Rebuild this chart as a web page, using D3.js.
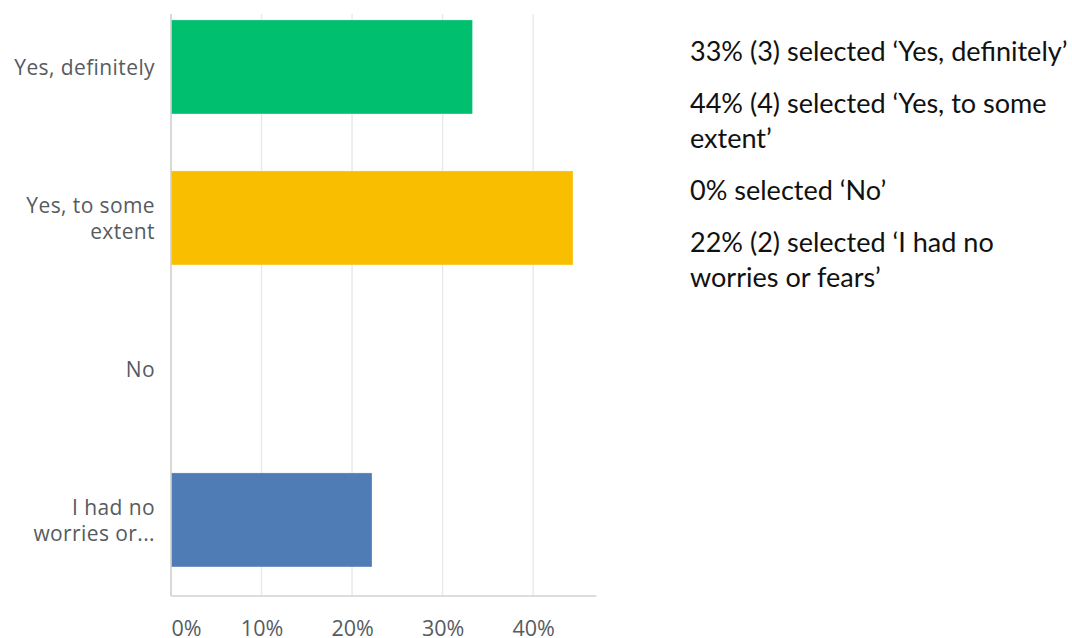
<!DOCTYPE html>
<html>
<head>
<meta charset="utf-8">
<script src="https://cdn.jsdelivr.net/npm/d3@7"></script>
<style>
  html, body { margin: 0; padding: 0; background: #fff; }
  svg { display: block; }
</style>
</head>
<body>
<svg id="chart" width="1072" height="638"></svg>
<script>
// Survey answers, in the order they are listed
const categories = ["Yes, definitely", "Yes, to some extent", "No", "I had no worries or fears"];
// Wrapped axis labels as they appear next to the bars
const categoryLabels = [["Yes, definitely"], ["Yes, to some", "extent"], ["No"], ["I had no", "worries or..."]];
// Share of respondents (%)
const percents = [33.3, 44.4, 0, 22.2];
const barColors = ["#00bf6f", "#f9be00", "#6bc8cd", "#507cb6"];
// Percentage tick values along the bottom
const tickValues = [0, 10, 20, 30, 40];
// Summary notes shown to the right, one paragraph per answer
const summaryLines = [
  ["33% (3) selected \u2018Yes, definitely\u2019"],
  ["44% (4) selected \u2018Yes, to some", "extent\u2019"],
  ["0% selected \u2018No\u2019"],
  ["22% (2) selected \u2018I had no", "worries or fears\u2019"]
];

const svg = d3.select("#chart");

const plotLeft = 171, plotRight = 596.5, plotTop = 14, plotBottom = 596;

const x = d3.scaleLinear().domain([0, 47]).range([plotLeft, plotRight]);
const y = d3.scaleBand()
  .domain(categories)
  .range([plotTop, plotBottom])
  .paddingInner(0.3775)
  .paddingOuter(0.116)
  .align(0.17);

// vertical gridlines
svg.append("g").selectAll("line")
  .data(tickValues.filter(d => d > 0))
  .join("line")
  .attr("x1", d => x(d)).attr("x2", d => x(d))
  .attr("y1", plotTop).attr("y2", plotBottom)
  .attr("stroke", "#e8e8e8").attr("stroke-width", 1.4);

// bars
svg.append("g").selectAll("rect")
  .data(categories)
  .join("rect")
  .attr("x", x(0))
  .attr("y", d => y(d))
  .attr("width", (d, i) => x(percents[i]) - x(0))
  .attr("height", y.bandwidth())
  .attr("fill", (d, i) => barColors[i])
  .attr("stroke", "rgba(255,255,255,0.25)")
  .attr("stroke-width", 1);

// axis lines
svg.append("line")
  .attr("x1", plotLeft).attr("x2", plotLeft)
  .attr("y1", plotTop).attr("y2", plotBottom)
  .attr("stroke", "#cfcfcf").attr("stroke-width", 1.6);
svg.append("line")
  .attr("x1", plotLeft).attr("x2", plotRight)
  .attr("y1", plotBottom).attr("y2", plotBottom)
  .attr("stroke", "#d2d2d2").attr("stroke-width", 1.6);

// bottom tick labels
const xAxis = d3.axisBottom(x)
  .tickValues(tickValues)
  .tickFormat(d => d + "%")
  .tickSize(0)
  .tickPadding(0);
const gx = svg.append("g")
  .attr("transform", `translate(0, ${plotBottom})`)
  .call(xAxis);
gx.select(".domain").remove();
gx.selectAll("text")
  .attr("y", 39.5)
  .attr("dy", 0)
  .attr("fill", "#565b5f")
  .style("font-family", "'Open Sans', sans-serif")
  .style("font-size", "21.5px")
  .attr("text-anchor", d => d === 0 ? "start" : "middle");

// category labels
const lineGap = 26;
svg.append("g").selectAll("text")
  .data(categories)
  .join("text")
  .attr("text-anchor", "end")
  .attr("fill", "#565b5f")
  .style("font-family", "'Open Sans', sans-serif")
  .style("font-size", "21px")
  .style("letter-spacing", "0.4px")
  .each(function (d, i) {
    const lines = categoryLabels[i];
    const cy = y(d) + y.bandwidth() / 2;
    const first = cy + 8 - (lines.length - 1) * lineGap / 2;
    d3.select(this).selectAll("tspan")
      .data(lines)
      .join("tspan")
      .attr("x", 155)
      .attr("y", (t, j) => first + j * lineGap)
      .text(t => t);
  });

// summary notes
const notes = svg.append("g")
  .attr("transform", "translate(690,0) scale(1.04,1)")
  .style("font-family", "Lato, 'Open Sans', sans-serif")
  .style("font-size", "26px")
  .attr("fill", "#111");
let baseline = 61;
summaryLines.forEach(par => {
  par.forEach((line, j) => {
    notes.append("text")
      .attr("x", 0)
      .attr("y", baseline + j * 35)
      .text(line);
  });
  baseline += (par.length - 1) * 35 + 52;
});
</script>
</body>
</html>
